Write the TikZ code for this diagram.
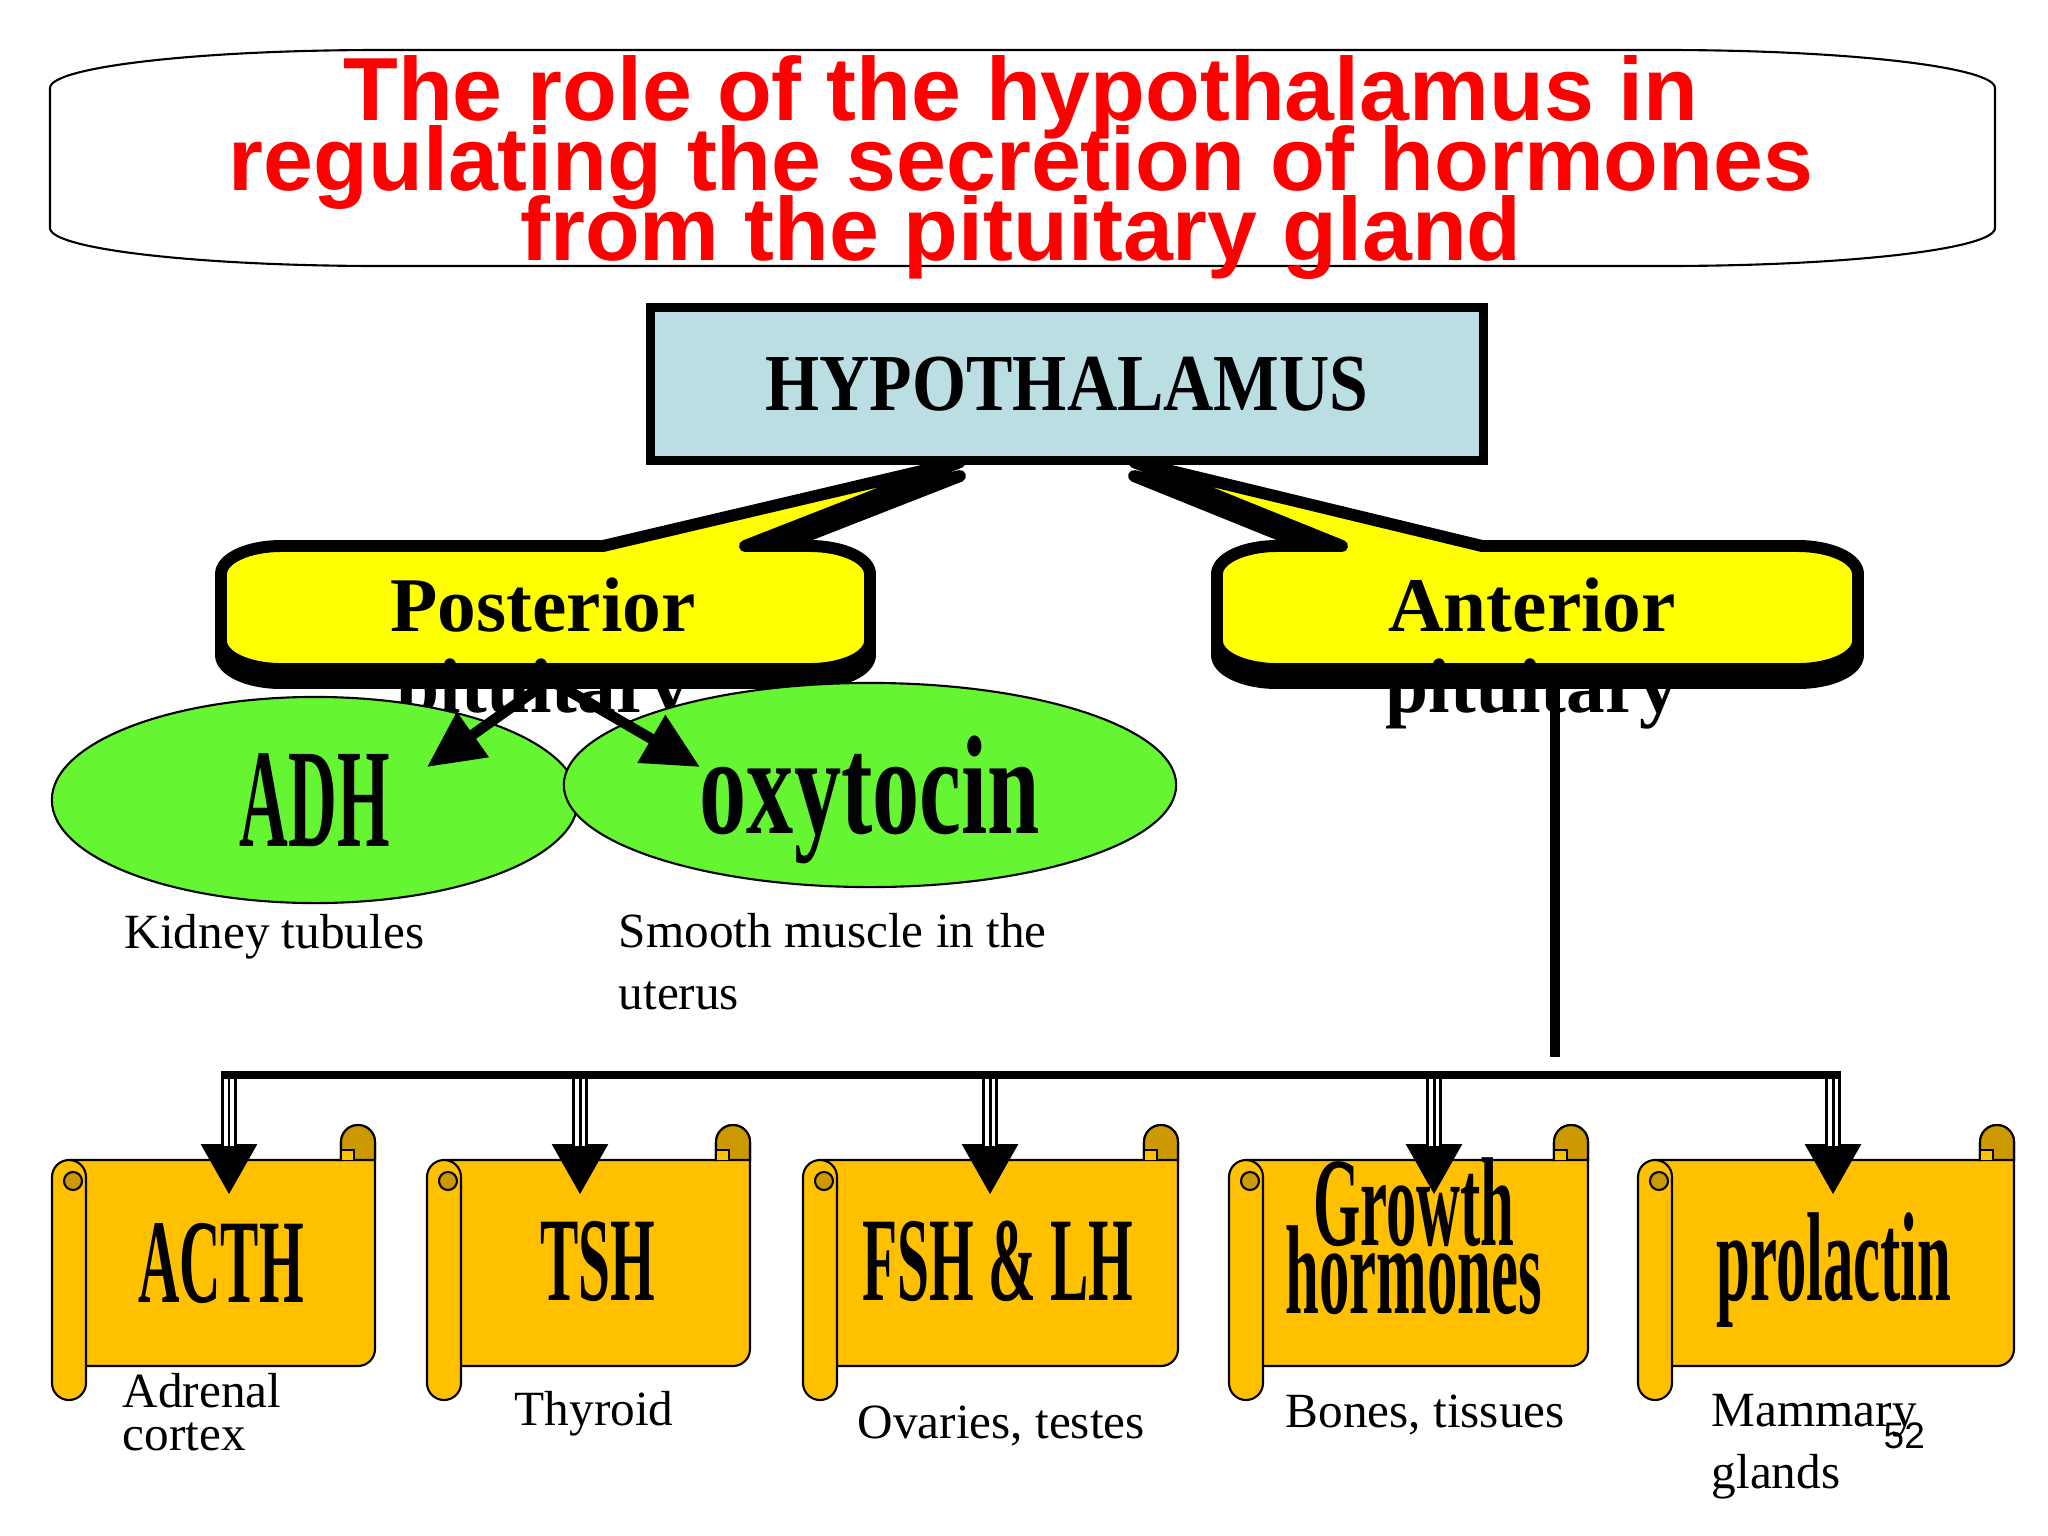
\documentclass[tikz,border=0pt]{standalone}
\usepackage{fontspec}
\setmainfont{Liberation Serif}
\newfontfamily\titlefont{Liberation Sans}
\newfontfamily\hyfont[FakeStretch=0.86]{Liberation Serif}
\newfontfamily\scrollfont[FakeStretch=0.48]{Liberation Serif}
\newfontfamily\oxyfont[FakeStretch=0.67]{Liberation Serif}
\usepackage{tikz}
\usetikzlibrary{arrows.meta, shapes.geometric}
\setlength{\lineskiplimit}{-\maxdimen}

\definecolor{titlered}{RGB}{255,0,0}
\definecolor{hypoblue}{RGB}{187,222,226}
\definecolor{callyellow}{RGB}{255,255,0}
\definecolor{glandgreen}{RGB}{102,245,51}
\definecolor{scrollgold}{RGB}{255,192,0}
\definecolor{curlgold}{RGB}{204,153,0}

% speech-bubble box: left, right, pointer base left, tip x, pointer base right
\newcommand\callout[5]{%
  \filldraw[callshadow, yshift=-0.14cm] (#1+60,-546) -- (#3,-546) -- (#4,-462) -- (#5,-546) -- (#2-60,-546)
    arc[start angle=90, end angle=0, x radius=60, y radius=28] -- (#2,-641)
    arc[start angle=0, end angle=-90, x radius=60, y radius=28] -- (#1+60,-669)
    arc[start angle=270, end angle=180, x radius=60, y radius=28] -- (#1,-574)
    arc[start angle=180, end angle=90, x radius=60, y radius=28] -- cycle;
  \filldraw[callbox] (#1+60,-546) -- (#3,-546) -- (#4,-462) -- (#5,-546) -- (#2-60,-546)
    arc[start angle=90, end angle=0, x radius=60, y radius=28] -- (#2,-641)
    arc[start angle=0, end angle=-90, x radius=60, y radius=28] -- (#1+60,-669)
    arc[start angle=270, end angle=180, x radius=60, y radius=28] -- (#1,-574)
    arc[start angle=180, end angle=90, x radius=60, y radius=28] -- cycle;
}

% scroll: left edge of the roll, right edge of the sheet
\newcommand\hscroll[2]{%
  \filldraw[sheet] (#1+17,-1160) -- (#2-34,-1160) -- (#2-34,-1142)
    arc[start angle=180, end angle=0, radius=17] -- (#2,-1349)
    arc[start angle=0, end angle=-90, radius=17] -- (#1+34,-1366) -- cycle;
  \filldraw[curl] (#2-34,-1160) -- (#2-34,-1142)
    arc[start angle=180, end angle=0, radius=17] -- (#2,-1160) -- cycle;
  \filldraw[sheet] (#2-34,-1160) -- (#2-34,-1150) -- (#2-21,-1150) -- (#2-21,-1160);
  \filldraw[sheet] (#1,-1177) arc[start angle=180, end angle=0, radius=17] -- (#1+34,-1383)
    arc[start angle=0, end angle=-180, radius=17] -- cycle;
  \filldraw[curl] (#1+21,-1181) circle[radius=9];
}

\begin{document}
\begin{tikzpicture}[
    x=0.01cm, y=0.01cm,
    every node/.style={inner sep=0pt},
    titlebox/.style={draw, line width=0.6pt},
    heading/.style={font=\titlefont\bfseries\fontsize{25.5}{19.8}\selectfont, text=titlered, align=center},
    hypobox/.style={rectangle, draw, line width=2.5pt, fill=hypoblue, minimum width=8.33cm, minimum height=1.53cm,
        font=\hyfont\bfseries\fontsize{23}{23}\selectfont},
    callbox/.style={draw, fill=callyellow, line width=3.4pt, line join=round},
    callshadow/.style={draw, fill=black, line width=3.4pt, line join=round},
    calltext/.style={font=\bfseries\fontsize{22}{22.8}\selectfont, align=center, anchor=base},
    gland/.style={ellipse, draw, line width=0.6pt, fill=glandgreen},
    targetlabel/.style={font=\fontsize{14}{17.4}\selectfont, align=left, anchor=base west},
    hormone/.style={font=\scrollfont\bfseries\fontsize{34}{19.3}\selectfont, align=center, anchor=base},
    sheet/.style={draw, line width=0.6pt, fill=scrollgold},
    curl/.style={draw, line width=0.6pt, fill=curlgold},
    arr/.style={line width=3pt, -{Triangle[length=16pt, width=15pt]}},
    stemline/.style={line width=3pt},
    busline/.style={line width=2pt},
    busarr/.style={line width=4.5pt, -{Triangle[length=14.5pt, width=15pt]},
        postaction={draw=white, line width=2.8pt, -, shorten >=14pt},
        postaction={draw=black, line width=0.85pt, -, shorten >=14pt}},
]
    \fill[white] (0,0) rectangle (2048,-1536);
    \useasboundingbox (0,0) rectangle (2048,-1536);

    % title
    \draw[titlebox] (50,-88) arc[start angle=180, end angle=90, x radius=330, y radius=38] -- (1665,-50)
        arc[start angle=90, end angle=0, x radius=330, y radius=38] -- (1995,-228)
        arc[start angle=0, end angle=-90, x radius=330, y radius=38] -- (380,-266)
        arc[start angle=270, end angle=180, x radius=330, y radius=38] -- cycle;
    \node[heading, anchor=base] (title) at (1021,-260)
        {The role of the hypothalamus in\\regulating the secretion of hormones\\from the pituitary gland};

    \node[hypobox] (hypo) at (1067,-384) {HYPOTHALAMUS};

    \callout{221}{870}{603}{960}{745}
    \callout{1217}{1858}{1342}{1134}{1482}
    \node[calltext] (post) at (543,-712) {Posterior\\pituitary};
    \node[calltext] (ant) at (1532,-712) {Anterior\\pituitary};

    \coordinate (postfoot) at (550,-680);
    \coordinate (adhtip) at (427,-767);
    \coordinate (oxytip) at (700,-767);
    \coordinate (antfoot) at (1555,-688);
    \coordinate (antend) at (1555,-1057);

    % posterior branch
    \node[gland, minimum width=5.26cm, minimum height=2.06cm,
        font=\scrollfont\bfseries\fontsize{40}{40}\selectfont] (adh) at (315,-800) {ADH};
    \node[gland, minimum width=6.12cm, minimum height=2.04cm, text depth=0pt,
        font=\oxyfont\bfseries\fontsize{40}{40}\selectfont] (oxy) at (870,-785) {oxytocin};
    \draw[arr] (postfoot) -- (adhtip);
    \draw[arr] (postfoot) -- (oxytip);
    \node[targetlabel] (kidney) at (124,-948) {Kidney tubules};
    \node[targetlabel] (uterus) at (618,-1009) {Smooth muscle in the\\uterus};

    % anterior branch
    \draw[stemline] (antfoot) -- (antend);
    \hscroll{52}{375}
    \hscroll{427}{750}
    \hscroll{803}{1178}
    \hscroll{1229}{1588}
    \hscroll{1638}{2014}

    \coordinate (bus1) at (229,-1075);
    \coordinate (bus2) at (580,-1075);
    \coordinate (bus3) at (990,-1075);
    \coordinate (bus4) at (1434,-1075);
    \coordinate (bus5) at (1833,-1075);
    \coordinate (acthtop) at (229,-1195);
    \coordinate (tshtop) at (580,-1195);
    \coordinate (fshtop) at (990,-1195);
    \coordinate (ghtop) at (1434,-1195);
    \coordinate (prltop) at (1833,-1195);

    \node[hormone] (acth) at (221,-1302) {ACTH};
    \node[hormone] (tsh) at (598,-1300) {TSH};
    \node[hormone] (fshlh) at (998,-1300) {FSH \& LH};
    \node[hormone, font=\scrollfont\bfseries\fontsize{36}{19.3}\selectfont] (gh) at (1414,-1313) {Growth\\hormones};
    \node[hormone, font=\scrollfont\bfseries\fontsize{36}{36}\selectfont] (prl) at (1834,-1300) {prolactin};

    \draw[busarr] (bus1) -- (acthtop);
    \draw[busarr] (bus2) -- (tshtop);
    \draw[busarr] (bus3) -- (fshtop);
    \draw[busarr] (bus4) -- (ghtop);
    \draw[busarr] (bus5) -- (prltop);
    \draw[busline] ([xshift=-0.08cm]bus1) -- ([xshift=0.08cm]bus5);

    \node[targetlabel, font=\fontsize{14}{12}\selectfont] (adrenal) at (122,-1450) {Adrenal\\cortex};
    \node[targetlabel] (thyroid) at (514,-1425) {Thyroid};
    \node[targetlabel] (gonads) at (857,-1438) {Ovaries, testes};
    \node[targetlabel] (bones) at (1285,-1427) {Bones, tissues};
    \node[targetlabel] (mammary) at (1711,-1488) {Mammary\\glands};
    \node[font=\titlefont\fontsize{10.5}{10.5}\selectfont, anchor=base west] (pageno) at (1883,-1448) {52};
\end{tikzpicture}
\end{document}
